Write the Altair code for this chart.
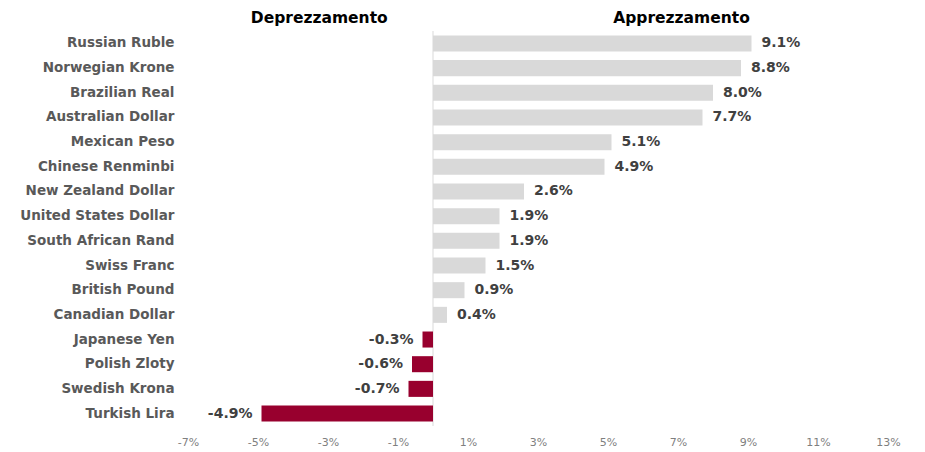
import altair as alt
import pandas as pd

currencies = ["Russian Ruble", "Norwegian Krone", "Brazilian Real", "Australian Dollar",
              "Mexican Peso", "Chinese Renminbi", "New Zealand Dollar", "United States Dollar",
              "South African Rand", "Swiss Franc", "British Pound", "Canadian Dollar",
              "Japanese Yen", "Polish Zloty", "Swedish Krona", "Turkish Lira"]
changes = [9.1, 8.8, 8.0, 7.7, 5.1, 4.9, 2.6, 1.9, 1.9, 1.5, 0.9, 0.4, -0.3, -0.6, -0.7, -4.9]
tick_values = [-7, -5, -3, -1, 1, 3, 5, 7, 9, 11, 13]
headers = ["Deprezzamento", "Apprezzamento"]
header_pos = [-3.25, 7.1]

df = pd.DataFrame({"currency": currencies, "change": changes})
df["label"] = df["change"].map(lambda v: f"{v:.1f}%")
hdf = pd.DataFrame({"text": headers, "x": header_pos})

FONT = "DejaVu Sans"

x_scale = alt.Scale(domain=[-7, 13], nice=False, zero=False)
y_enc = alt.Y("currency:N", sort=currencies,
              scale=alt.Scale(paddingInner=0.35, paddingOuter=0.18),
              axis=alt.Axis(title=None, domain=False, ticks=False, labelPadding=14,
                            labelFont=FONT, labelFontSize=13.5, labelFontWeight="bold",
                            labelColor="#595959"))

base = alt.Chart(df)

bars = base.mark_bar().encode(
    x=alt.X("change:Q", scale=x_scale,
            axis=alt.Axis(title=None, values=tick_values, labelExpr="datum.value + '%'",
                          grid=False, domain=False, ticks=False, labelPadding=10,
                          labelFlush=False, labelOverlap=False,
                          labelFont=FONT, labelFontSize=11, labelColor="#7f7f7f")),
    x2=alt.datum(0),
    y=y_enc,
    color=alt.condition("datum.change >= 0", alt.value("#D9D9D9"), alt.value("#98002E")),
)

zero_rule = alt.Chart(pd.DataFrame({"z": [0]})).mark_rule(color="#D9D9D9", strokeWidth=1).encode(
    x=alt.X("z:Q", scale=x_scale)
)

pos_text = base.transform_filter("datum.change >= 0").mark_text(
    align="left", baseline="middle", dx=10, font=FONT, fontSize=14, fontWeight="bold",
    color="#404040").encode(x=alt.X("change:Q", scale=x_scale), y=y_enc, text="label:N")

neg_text = base.transform_filter("datum.change < 0").mark_text(
    align="right", baseline="middle", dx=-9, font=FONT, fontSize=14, fontWeight="bold",
    color="#404040").encode(x=alt.X("change:Q", scale=x_scale), y=y_enc, text="label:N")

head = alt.Chart(hdf).mark_text(
    align="center", baseline="middle", font=FONT, fontSize=15.5, fontWeight="bold",
    color="#000000").encode(x=alt.X("x:Q", scale=x_scale), y=alt.value(-13), text="text:N")

chart = alt.layer(zero_rule, bars, pos_text, neg_text, head).properties(
    width=700, height=395,
    autosize=alt.AutoSizeParams(type="none"),
    padding={"left": 188, "top": 31, "right": 37, "bottom": 26},
).configure_view(stroke=None)

chart.save("out.html", embed_options={"renderer": "svg", "actions": False})
